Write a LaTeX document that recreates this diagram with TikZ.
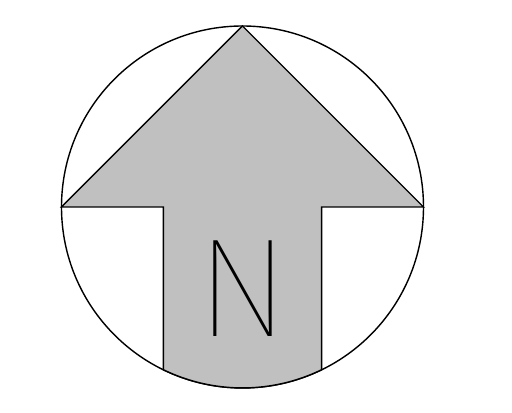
\documentclass[tikz,border=0pt]{standalone}
\usepackage{fontspec}
\usepackage{xcolor}
\usepackage{tikz}
\usetikzlibrary{positioning,calc}
\IfFontExistsTF{Fira Sans Thin}{\newfontfamily\nfont{Fira Sans Thin}}{%
 \IfFontExistsTF{Lato Hairline}{\newfontfamily\nfont{Lato Hairline}}{%
  \newfontfamily\nfont{Liberation Sans}}}
\definecolor{arrowgray}{RGB}{192,192,192}

\begin{document}
\begin{tikzpicture}[
 ln/.style={draw=black,line width=0.8pt,line join=miter},
 lbl/.style={inner sep=0pt,font=\nfont\fontsize{80}{80}\selectfont}]
\useasboundingbox (-4.85,-4.12) rectangle (5.39,4.14);
\draw[ln] (0,0) circle (3.62);
\draw[ln,fill=arrowgray] (0,3.62) -- (-3.62,0) -- (-1.584,0) -- (-1.584,-3.254)
 arc[start angle=-115.95,end angle=-64.05,radius=3.62]
 -- (1.584,0) -- (3.62,0) -- cycle;
\node[lbl] (n) at (0,-1.63) {N};
\end{tikzpicture}
\end{document}
